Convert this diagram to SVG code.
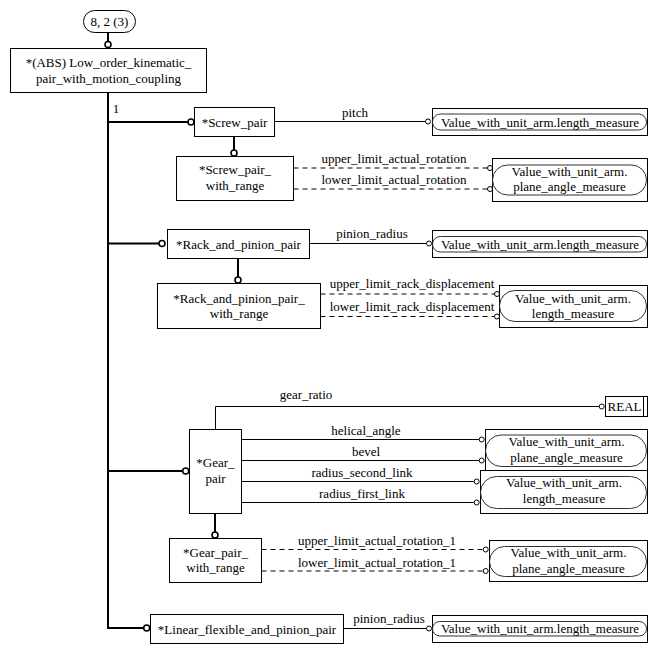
<svg xmlns="http://www.w3.org/2000/svg" width="657" height="653" viewBox="0 0 657 653">
<style>
text{font-family:"Liberation Serif","Times New Roman",serif;font-size:13px;fill:#000;text-anchor:middle}
.box{fill:#fff;stroke:#000;stroke-width:1}
.rnd{fill:none;stroke:#333;stroke-width:1}
.thick{fill:none;stroke:#000;stroke-width:2}
.thin{fill:none;stroke:#000;stroke-width:1}
.dash{fill:none;stroke:#000;stroke-width:1;stroke-dasharray:5,4}
.bc{fill:#fff;stroke:#000;stroke-width:1.6}
.sc{fill:#fff;stroke:#000;stroke-width:1}
</style>
<rect width="657" height="653" fill="#fff"/>
<g id="connectors">
<line class="thick" x1="108" y1="32" x2="108" y2="41.5"/>
<circle class="bc" cx="108" cy="44.5" r="3"/>
<path class="thick" d="M108 92 V628 H143.5"/>
<circle class="bc" cx="146.7" cy="628" r="3"/>
<line class="thick" x1="108" y1="122" x2="188" y2="122"/>
<circle class="bc" cx="191" cy="122" r="3"/>
<line class="thin" x1="274.5" y1="121.5" x2="425.5" y2="121.5"/>
<circle class="sc" cx="428" cy="121.5" r="2.5"/>
<line class="thick" x1="234" y1="137" x2="234" y2="150"/>
<circle class="bc" cx="234" cy="153" r="3"/>
<line class="dash" x1="293.5" y1="168" x2="487.5" y2="168"/>
<circle class="sc" cx="490" cy="168" r="2.5"/>
<line class="dash" x1="293.5" y1="189" x2="487.5" y2="189"/>
<circle class="sc" cx="490" cy="189" r="2.5"/>
<line class="thick" x1="108" y1="243.5" x2="159" y2="243.5"/>
<circle class="bc" cx="162" cy="243.5" r="3"/>
<line class="thin" x1="309.5" y1="243.5" x2="426.5" y2="243.5"/>
<circle class="sc" cx="429" cy="243.5" r="2.5"/>
<line class="thick" x1="238" y1="259" x2="238" y2="277"/>
<circle class="bc" cx="238" cy="280" r="3"/>
<line class="dash" x1="320.5" y1="294" x2="494.5" y2="294"/>
<circle class="sc" cx="497" cy="294" r="2.5"/>
<line class="dash" x1="320.5" y1="316.5" x2="494.5" y2="316.5"/>
<circle class="sc" cx="497" cy="316.5" r="2.5"/>
<line class="thick" x1="108" y1="471" x2="182.7" y2="471"/>
<circle class="bc" cx="185.7" cy="471" r="3"/>
<path class="thin" d="M215.5 429.5 V406.5 H599.2"/>
<circle class="sc" cx="601.7" cy="406.5" r="2.5"/>
<line class="thin" x1="241.5" y1="439.5" x2="479.2" y2="439.5"/>
<circle class="sc" cx="481.7" cy="439.5" r="2.5"/>
<line class="thin" x1="241.5" y1="460.5" x2="479.2" y2="460.5"/>
<circle class="sc" cx="481.7" cy="460.5" r="2.5"/>
<line class="thin" x1="241.5" y1="481.5" x2="474.2" y2="481.5"/>
<circle class="sc" cx="476.7" cy="481.5" r="2.5"/>
<line class="thin" x1="241.5" y1="502.5" x2="474.2" y2="502.5"/>
<circle class="sc" cx="476.7" cy="502.5" r="2.5"/>
<line class="thick" x1="215" y1="513.5" x2="215" y2="532"/>
<circle class="bc" cx="215" cy="535" r="3"/>
<line class="dash" x1="261.5" y1="549.5" x2="483.2" y2="549.5"/>
<circle class="sc" cx="485.7" cy="549.5" r="2.5"/>
<line class="dash" x1="261.5" y1="571" x2="483.2" y2="571"/>
<circle class="sc" cx="485.7" cy="571" r="2.5"/>
<line class="thin" x1="343.5" y1="628.5" x2="426.5" y2="628.5"/>
<circle class="sc" cx="429" cy="628.5" r="2.5"/>
<text x="116" y="113">1</text>
<text x="355" y="117">pitch</text>
<text x="394" y="163">upper_limit_actual_rotation</text>
<text x="394" y="184">lower_limit_actual_rotation</text>
<text x="372" y="238">pinion_radius</text>
<text x="412" y="288">upper_limit_rack_displacement</text>
<text x="412" y="311">lower_limit_rack_displacement</text>
<text x="306" y="399">gear_ratio</text>
<text x="366" y="435">helical_angle</text>
<text x="366" y="456">bevel</text>
<text x="362" y="477">radius_second_link</text>
<text x="362" y="498">radius_first_link</text>
<text x="377" y="545">upper_limit_actual_rotation_1</text>
<text x="377" y="567">lower_limit_actual_rotation_1</text>
<text x="389" y="623">pinion_radius</text>
</g>
<g id="page_ref">
<rect class="box" x="83.5" y="10.5" width="52" height="22" rx="11"/>
<text x="109.5" y="26">8, 2 (3)</text>
</g>
<g id="low_order_kinematic_pair_with_motion_coupling">
<rect class="box" x="10.5" y="48.5" width="196" height="44"/>
<text x="108.5" y="67">*(ABS) Low_order_kinematic_</text>
<text x="108.5" y="82.5">pair_with_motion_coupling</text>
</g>
<g id="screw_pair">
<rect class="box" x="194.5" y="107.5" width="80" height="29"/>
<text x="234.5" y="126.5">*Screw_pair</text>
</g>
<g id="screw_pair_with_range">
<rect class="box" x="176.5" y="156.5" width="117" height="44"/>
<text x="235" y="174">*Screw_pair_</text>
<text x="235" y="190">with_range</text>
</g>
<g id="value_length_1">
<rect class="box" x="432.5" y="108.5" width="215" height="27"/>
<rect class="rnd" x="432.5" y="114" width="214" height="16" rx="8"/>
<text x="540" y="126.5">Value_with_unit_arm.length_measure</text>
</g>
<g id="value_plane_angle_1">
<rect class="box" x="492.5" y="158.5" width="155" height="43"/>
<rect class="rnd" x="492.5" y="165" width="154" height="30" rx="15"/>
<text x="569.5" y="175.5">Value_with_unit_arm.</text>
<text x="569.5" y="191">plane_angle_measure</text>
</g>
<g id="rack_and_pinion_pair">
<rect class="box" x="167.5" y="229.5" width="142" height="29"/>
<text x="238.5" y="248.5">*Rack_and_pinion_pair</text>
</g>
<g id="rack_and_pinion_pair_with_range">
<rect class="box" x="157.5" y="283.5" width="163" height="45"/>
<text x="239" y="303">*Rack_and_pinion_pair_</text>
<text x="239" y="318">with_range</text>
</g>
<g id="value_length_2">
<rect class="box" x="432.5" y="230.5" width="215" height="27"/>
<rect class="rnd" x="432.5" y="236.5" width="214" height="15.5" rx="7.75"/>
<text x="540" y="248.5">Value_with_unit_arm.length_measure</text>
</g>
<g id="value_length_3">
<rect class="box" x="499.5" y="285.5" width="148" height="42"/>
<rect class="rnd" x="499.5" y="290.5" width="147" height="31" rx="15.5"/>
<text x="573" y="303">Value_with_unit_arm.</text>
<text x="573" y="317.5">length_measure</text>
</g>
<g id="gear_pair">
<rect class="box" x="189.5" y="429.5" width="52" height="84"/>
<text x="215.5" y="467">*Gear_</text>
<text x="215.5" y="482.5">pair</text>
</g>
<g id="real">
<rect class="box" x="605.5" y="396.5" width="42" height="20"/>
<line class="thin" x1="643.5" y1="396.5" x2="643.5" y2="416.5"/>
<text x="624.5" y="410.5">REAL</text>
</g>
<g id="value_plane_angle_2">
<rect class="box" x="485.5" y="429.5" width="162" height="41"/>
<rect class="rnd" x="485.5" y="435" width="161" height="31.5" rx="15.75"/>
<text x="566.5" y="445.5">Value_with_unit_arm.</text>
<text x="566.5" y="461.5">plane_angle_measure</text>
</g>
<g id="value_length_4">
<rect class="box" x="480.5" y="470.5" width="167" height="43"/>
<rect class="rnd" x="480.5" y="476.5" width="166" height="32" rx="16"/>
<text x="564" y="487">Value_with_unit_arm.</text>
<text x="564" y="503">length_measure</text>
</g>
<g id="gear_pair_with_range">
<rect class="box" x="169.5" y="538.5" width="92" height="44"/>
<text x="215.5" y="556.5">*Gear_pair_</text>
<text x="215.5" y="572">with_range</text>
</g>
<g id="value_plane_angle_3">
<rect class="box" x="489.5" y="540.5" width="158" height="41"/>
<rect class="rnd" x="489.5" y="546.5" width="157" height="30" rx="15"/>
<text x="568.5" y="557">Value_with_unit_arm.</text>
<text x="568.5" y="573">plane_angle_measure</text>
</g>
<g id="linear_flexible_and_pinion_pair">
<rect class="box" x="150.5" y="614.5" width="193" height="29"/>
<text x="247" y="633.5">*Linear_flexible_and_pinion_pair</text>
</g>
<g id="value_length_5">
<rect class="box" x="432.5" y="615.5" width="215" height="27"/>
<rect class="rnd" x="432.5" y="621.5" width="214" height="14.5" rx="7.25"/>
<text x="540" y="633">Value_with_unit_arm.length_measure</text>
</g>
</svg>
